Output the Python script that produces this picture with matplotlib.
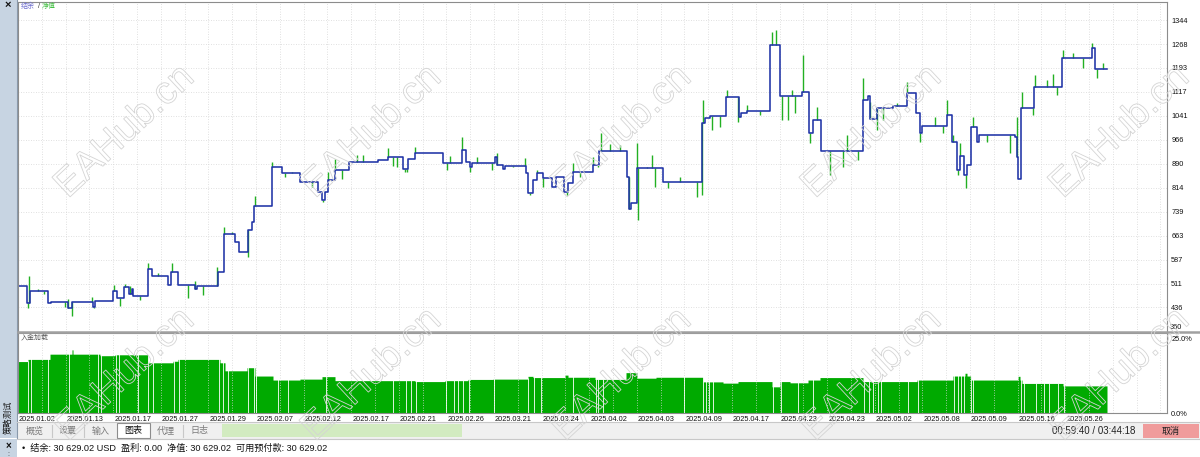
import numpy as np
import matplotlib
matplotlib.use('Agg')
import matplotlib.pyplot as plt
from matplotlib.patches import Rectangle
import matplotlib.patheffects as pe

plt.rcParams['font.family'] = ['Liberation Sans', 'Noto Sans CJK SC', 'DejaVu Sans']

# balance: (deal index, value) steps
bal_x = [0, 9, 12, 30, 33, 50, 54, 75, 77, 95, 99, 106, 111, 114, 115, 130, 134, 150, 153, 160,
         177, 179, 200, 206, 217, 221, 230, 234, 236, 254, 264, 282, 300, 304, 307, 310, 317, 331,
         360, 370, 385, 390, 397, 425, 444, 448, 452, 454, 477, 479, 485, 487, 508, 510, 515, 519,
         525, 534, 538, 546, 550, 555, 575, 581, 609, 611, 613, 619, 645, 684, 687, 692, 708, 721,
         723, 729, 752, 762, 784, 791, 795, 803, 845, 850, 852, 859, 875, 889, 898, 902, 904, 929,
         934, 939, 942, 946, 949, 953, 959, 961, 997, 999, 1000, 1003, 1016, 1044, 1074, 1077]
bal_v = [504, 449, 489, 449, 454, 433, 454, 438, 456, 489, 465, 502, 480, 493, 473, 556, 535, 507, 549, 507,
         493, 504, 549, 667, 644, 612, 680, 707, 756, 881, 860, 831, 802, 775, 802, 839, 870, 896,
         902, 910, 874, 905, 923, 891, 933, 896, 881, 891, 910, 886, 872, 884, 860, 796, 839, 860,
         844, 818, 849, 802, 828, 865, 886, 931, 849, 746, 767, 875, 833, 1018, 1033, 1041, 1102, 1039,
         1049, 1058, 1265, 1104, 1118, 986, 1028, 931, 1091, 1104, 1030, 1065, 1072, 1114, 1049, 986, 1009, 1044,
         960, 870, 914, 854, 886, 1007, 960, 981, 975, 912, 841, 1065, 1133, 1223, 1254, 1188]
last_deal = 1089

# equity excursions: (deal index, equity extreme)
eq_x = [10, 11, 20, 26, 47, 50, 54, 74, 76, 96, 102, 107, 112, 122, 130, 140, 154, 170, 177, 185,
        199, 206, 214, 230, 237, 254, 267, 274, 294, 305, 310, 317, 324, 330, 339, 345, 370, 375, 379, 387,
        389, 397, 429, 432, 444, 452, 459, 474, 479, 495, 507, 512, 519, 525, 540, 549, 555, 562, 575, 580,
        583, 592, 602, 611, 619, 620, 629, 634, 637, 650, 662, 679, 684, 685, 694, 702, 709, 720, 729, 742,
        754, 758, 764, 770, 774, 777, 785, 792, 799, 812, 825, 829, 840, 845, 852, 859, 865, 879, 889, 902,
        917, 925, 929, 935, 940, 942, 948, 955, 969, 992, 999, 1004, 1015, 1017, 1029, 1035, 1039, 1045, 1055, 1065,
        1074, 1079, 1085]
eq_v = [433, 535, 493, 480, 438, 462, 409, 470, 433, 507, 441, 510, 504, 459, 575, 544, 577, 465, 521, 475,
        563, 689, 675, 594, 788, 896, 849, 865, 817, 770, 865, 904, 841, 870, 918, 918, 939, 883, 881, 865,
        865, 944, 870, 914, 973, 865, 912, 870, 923, 881, 907, 791, 870, 817, 849, 791, 893, 849, 912, 881,
        986, 952, 949, 849, 954, 712, 881, 918, 817, 812, 849, 786, 791, 1091, 997, 1007, 1123, 1023, 1075, 1044,
        1307, 1312, 1028, 1028, 1123, 1049, 1233, 954, 1070, 854, 881, 981, 902, 1160, 1086, 997, 1028, 1081, 1149, 960,
        1039, 986, 1091, 981, 854, 954, 812, 1039, 960, 923, 1039, 1118, 1044, 1170, 1154, 1175, 1107, 1249, 1239, 1191,
        1270, 1160, 1207]

# deposit load (%) steps
load_x = [0, 10, 32, 54, 55, 82, 97, 130, 155, 160, 202, 207, 229, 237, 255, 282, 304, 317, 397, 427,
          450, 475, 510, 515, 547, 550, 577, 608, 619, 638, 685, 705, 720, 754, 762, 772, 790, 802, 845, 899,
          935, 947, 949, 953, 1000, 1002, 1004, 1045]
load_v = [16.7, 17.4, 19.1, 20.5, 19.1, 18.6, 18.9, 16.3, 16.8, 17.4, 16.3, 13.7, 14.7, 12.0, 10.7, 11.0, 11.8, 10.5, 10.2, 10.5,
          10.9, 11.0, 11.9, 11.5, 12.3, 11.6, 10.9, 13.1, 11.3, 11.6, 10.1, 9.7, 10.2, 8.5, 10.2, 9.8, 10.7, 11.5, 10.2, 10.7,
          12.0, 12.9, 12.0, 10.7, 11.9, 10.7, 9.6, 8.8]
load_gaps = [9, 12, 29, 50, 79, 82, 97, 100, 119, 129, 134, 155, 160, 200, 204, 209, 229, 235, 237, 259,
             269, 307, 374, 387, 392, 397, 427, 435, 439, 444, 450, 475, 509, 515, 522, 554, 577, 579, 584, 665,
             684, 687, 690, 694, 754, 762, 779, 794, 845, 850, 854, 859, 862, 889, 899, 935, 939, 942, 945, 952,
             954, 1002, 1005, 1017, 1025, 1030, 1039, 1045]

y_ticks = [360, 436, 511, 587, 663, 739, 814, 890, 966, 1041, 1117, 1193, 1268, 1344]
dates = ['2025.01.02', '2025.01.13', '2025.01.17', '2025.01.27', '2025.01.29', '2025.02.07', '2025.02.12',
         '2025.02.17', '2025.02.21', '2025.02.26', '2025.03.21', '2025.03.24', '2025.04.02', '2025.04.03',
         '2025.04.09', '2025.04.17', '2025.04.23', '2025.04.23', '2025.05.02', '2025.05.08', '2025.05.09',
         '2025.05.16', '2025.05.26']

W, H = 1200, 457
BAL_C = '#1f33a6'
EQ_C = '#22b022'
LOAD_C = '#00aa00'
GRID_C = '#d6d6d6'


def rect(x0, y0, x1, y1):
    return [x0 / W, 1 - y1 / H, (x1 - x0) / W, (y1 - y0) / H]


fig = plt.figure(figsize=(12, 4.57), dpi=100)
fig.patch.set_facecolor('white')

# window chrome drawn in pixel coords
ui = fig.add_axes([0, 0, 1, 1], zorder=0)
ui.set_xlim(0, W)
ui.set_ylim(H, 0)
ui.axis('off')
ui.add_patch(Rectangle((0, 0), 17, 438, fc='#c7d4e2', ec='none'))
ui.add_patch(Rectangle((0, 439), 17, 18, fc='#c7d4e2', ec='none'))
ui.plot([17, 17], [0, 438], color='#8a9aac', lw=0.8)
ui.text(8, 5, '×', fontsize=8, fontweight='bold', ha='center', va='center', color='#111')
ui.text(8.5, 417, '策略测试', fontsize=6, rotation=90, ha='center', va='center', color='#111')
ui.text(8, 446, '×', fontsize=7, fontweight='bold', ha='center', va='center', color='#111')
ui.text(8, 454, ':', fontsize=5, ha='center', va='center', color='#333')

# tab bar
ui.add_patch(Rectangle((17, 422), W - 17, 17, fc='#f0f0f0', ec='none'))
ui.plot([17, W], [422, 422], color='#c8c8c8', lw=0.8)
ui.plot([17, W], [439, 439], color='#c8c8c8', lw=0.8)
ui.add_patch(Rectangle((117, 423), 33, 15, fc='white', ec='#8c8c8c', lw=0.8))
tabs = ['概览', '设置', '输入', '图表', '代理', '日志']
tab_cx = [35, 68, 101, 133, 166, 199]
for t, cx in zip(tabs, tab_cx):
    ui.text(cx, 431, t, fontsize=6.5, ha='center', va='center',
            color='#111' if t == '图表' else '#7a7a7a')
for sx in [52, 84, 183]:
    ui.plot([sx, sx], [425, 437], color='#c8c8c8', lw=0.8)
ui.add_patch(Rectangle((222, 424), 240, 13, fc='#d2ebc0', ec='none'))
ui.text(1135, 431, '00:59:40 / 03:44:18', fontsize=7, ha='right', va='center', color='#222')
ui.add_patch(Rectangle((1143, 424), 56, 14, fc='#f09c9c', ec='none'))
ui.text(1171, 431, '取消', fontsize=6.5, ha='center', va='center', color='#222')
ui.text(22, 448.5, '•  结余: 30 629.02 USD  盈利: 0.00  净值: 30 629.02  可用预付款: 30 629.02',
        fontsize=6.6, ha='left', va='center', color='#111')

# main balance / equity chart
ax = fig.add_axes(rect(18, 1.5, 1167, 331.5), zorder=1)
ax.set_xlim(0, 1149)
ax.set_ylim(360, 360 + 330 * 3.159)
grid_x = np.arange(23.8, 1149, 23.8)
ax.vlines(grid_x, 360, 1420, color=GRID_C, lw=0.6, linestyles=(0, (1, 2)))
ax.hlines(y_ticks, 0, 1149, color=GRID_C, lw=0.6, linestyles=(0, (1, 2)))

bx = np.array(bal_x)
bv = np.array(bal_v)
ex = np.array(eq_x)
base = bv[np.searchsorted(bx, ex, side='right') - 1]
ax.vlines(ex, base, eq_v, color=EQ_C, lw=1.0)
ax.step(np.append(bx, last_deal), np.append(bv, bv[-1]), where='post', color=BAL_C, lw=1.15)

ax.yaxis.tick_right()
ax.set_yticks(y_ticks[1:])
ax.set_yticklabels([str(v) for v in y_ticks[1:]])
ax.tick_params(axis='y', length=0, pad=3, labelsize=5.3, labelcolor='#111')
ax.text(1152, 360.5, str(y_ticks[0]), fontsize=5.3, color='#111', ha='left', va='bottom')
ax.set_xticks([])
for s in ax.spines.values():
    s.set_color('#8c8c8c')
    s.set_linewidth(0.8)
ax.spines['bottom'].set_visible(False)
ax.text(3, 1398, '结余', fontsize=5, color='#6f6fcf', va='top', ha='left')
ax.text(19.5, 1398, '/', fontsize=5, color='#333', va='top', ha='left')
ax.text(24, 1398, '净值', fontsize=5, color='#45c045', va='top', ha='left')

# deposit load panel
ax2 = fig.add_axes(rect(18, 333, 1167, 413), zorder=1)
ax2.set_xlim(0, 1149)
ax2.set_ylim(0, 25 * 80 / 77)
ax2.vlines(grid_x, 0, 30, color=GRID_C, lw=0.6, linestyles=(0, (1, 2)))
lx = np.arange(0, last_deal + 1)
lv = np.array(load_v)[np.searchsorted(load_x, lx, side='right') - 1]
ax2.fill_between(lx, lv, step='post', color=LOAD_C, lw=0)
gv = np.array(load_v)[np.searchsorted(load_x, load_gaps, side='right') - 1]
ax2.vlines(np.array(load_gaps) + 0.5, 0, gv + 0.3, color='white', lw=0.6)
ax2.yaxis.tick_right()
ax2.set_yticks([0, 24.2])
ax2.set_yticklabels(['0.0%', '25.0%'])
ax2.tick_params(axis='y', length=0, pad=3, labelsize=5.3, labelcolor='#111')
ax2.set_xticks(np.arange(len(dates)) * 47.6 + 1)
ax2.set_xticklabels(dates, ha='left')
ax2.tick_params(axis='x', length=0, pad=2, labelsize=5.3, labelcolor='#111')
for s in ax2.spines.values():
    s.set_color('#8c8c8c')
    s.set_linewidth(0.8)
ax2.text(3, 25.5, '入金加载', fontsize=5, color='#555', va='top', ha='left')

# panel separator
ui2 = fig.add_axes([0, 0, 1, 1], zorder=2)
ui2.set_xlim(0, W)
ui2.set_ylim(H, 0)
ui2.axis('off')
ui2.plot([18, W], [332, 332], color='#a0a0a0', lw=1.8)

# watermarks
wm = fig.add_axes([0, 0, 1, 1], zorder=5)
wm.set_xlim(0, W)
wm.set_ylim(H, 0)
wm.axis('off')
for cy in [132, 375]:
    for cx in [125, 372, 622, 872, 1120]:
        wm.text(cx, cy, 'EAHub.cn', fontsize=28, rotation=43, ha='center', va='center',
                color=(1, 1, 1, 0), family='Liberation Sans', rotation_mode='anchor',
                path_effects=[pe.withStroke(linewidth=0.6, foreground='#d4d4d4')])

fig.savefig('out.png', dpi=100)
